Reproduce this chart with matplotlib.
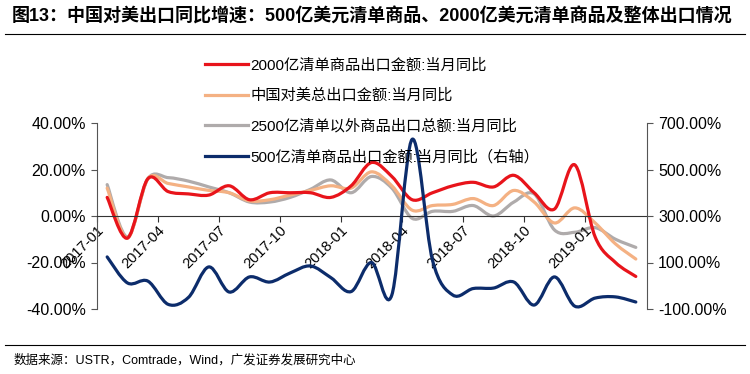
import matplotlib
matplotlib.use('Agg')
import matplotlib.pyplot as plt
import numpy as np
from matplotlib.path import Path
from matplotlib.patches import PathPatch
from matplotlib.lines import Line2D

plt.rcParams['font.family'] = ['Liberation Sans', 'Noto Sans CJK SC']

# monthly data 2017-01 .. 2019-03
months = ['2017-01', '2017-02', '2017-03', '2017-04', '2017-05', '2017-06',
          '2017-07', '2017-08', '2017-09', '2017-10', '2017-11', '2017-12',
          '2018-01', '2018-02', '2018-03', '2018-04', '2018-05', '2018-06',
          '2018-07', '2018-08', '2018-09', '2018-10', '2018-11', '2018-12',
          '2019-01', '2019-02', '2019-03']
tick_months = ['2017-01', '2017-04', '2017-07', '2017-10', '2018-01',
               '2018-04', '2018-07', '2018-10', '2019-01']

# left axis, %
red_2000 = [8, -9.5, 16, 10.5, 9.5, 9, 13, 7, 10, 10, 10, 8, 13, 23, 17, 7,
            10, 13, 14.5, 12.5, 17.5, 10, 3, 22, -9, -20, -26]
orange_total = [12, -9.5, 16, 14, 12.5, 11, 10, 6.5, 7, 9, 11, 13, 12, 19, 13,
                2.5, 4.5, 5, 7.5, 4.5, 11, 6, -3, 3.5, -3, -12, -18.5]
gray_other = [13.5, -9, 16, 16.5, 15, 12.5, 10, 6, 6, 8, 11.5, 15.5, 10, 17,
              12, -1, 2, 2, 4.5, 0, 6, 9.5, -6, -7, -5, -10, -13.5]
# right axis, %
blue_500 = [124, 12, 20, -80, -50, 81, -27, 38, 16, 55, 85, 35, -25, 100, -40,
            630, 110, -40, -12, -10, 16, -83, 38, -88, -53, -48, -70]

labels = ['2000亿清单商品出口金额:当月同比', '中国对美总出口金额:当月同比',
          '2500亿清单以外商品出口总额:当月同比', '500亿清单商品出口金额:当月同比（右轴）']
colors = ['#E8141B', '#F4B183', '#AFABAB', '#0C2C6B']


def smooth_path(x, y):
    # excel-like smooth line, bezier through every point
    pts = np.column_stack([x, y]).astype(float)
    verts = [pts[0]]
    codes = [Path.MOVETO]
    n = len(pts)
    for i in range(n - 1):
        p0 = pts[i - 1] if i > 0 else pts[i]
        p1 = pts[i]
        p2 = pts[i + 1]
        p3 = pts[i + 2] if i + 2 < n else pts[i + 1]
        verts += [p1 + (p2 - p0) / 6, p2 - (p3 - p1) / 6, p2]
        codes += [Path.CURVE4] * 3
    return Path(verts, codes)


fig = plt.figure(figsize=(7.5, 3.74), dpi=100)
ax = fig.add_axes([97 / 750, 1 - 309 / 374, 550 / 750, 186 / 374])
ax2 = ax.twinx()

x = np.arange(len(months)) + 0.5
lw = 2.3
# gray, orange, red order so red sits on top
for vals, c in [(gray_other, colors[2]), (orange_total, colors[1]), (red_2000, colors[0])]:
    ax.add_patch(PathPatch(smooth_path(x, vals), fill=False, edgecolor=c,
                           linewidth=lw, capstyle='round', joinstyle='round'))
ax2.add_patch(PathPatch(smooth_path(x, blue_500), fill=False, edgecolor=colors[3],
                        linewidth=lw, capstyle='round', joinstyle='round'))

ax.set_xlim(0, 27.05)
ax.set_ylim(-40, 40)
ax2.set_ylim(-100, 700)

for a in (ax, ax2):
    a.spines['top'].set_visible(False)
    a.patch.set_visible(False)
ax2.spines['bottom'].set_visible(False)
ax2.spines['left'].set_visible(False)
ax.spines['right'].set_visible(False)
ax.spines['bottom'].set_position(('data', 0))
ax.spines['bottom'].set_color('#333333')
ax.spines['left'].set_color('#555555')
ax2.spines['right'].set_color('#555555')
ax.tick_params(axis='x', length=4, color='#333333', pad=1)
ax.tick_params(axis='y', length=4, color='#555555', pad=4)
ax2.tick_params(axis='y', length=4, color='#555555', pad=4)

ax.set_yticks([-40, -20, 0, 20, 40])
ax.set_yticklabels(['-40.00%', '-20.00%', '0.00%', '20.00%', '40.00%'], fontsize=11.5)
ax2.set_yticks([-100, 100, 300, 500, 700])
ax2.set_yticklabels(['-100.00%', '100.00%', '300.00%', '500.00%', '700.00%'], fontsize=11.5)

ax.set_xticks([months.index(m) for m in tick_months])
ax.set_xticklabels(tick_months, fontsize=10.5)
for t in ax.get_xticklabels():
    t.set_rotation(45)
    t.set_rotation_mode('anchor')
    t.set_ha('right')
    t.set_va('top')

handles = [Line2D([], [], color=c, linewidth=lw) for c in colors]
fig.legend(handles, labels, loc='upper left', bbox_to_anchor=(205 / 750, 1 - 58 / 374),
           frameon=False, fontsize=11, handlelength=2.8, handletextpad=0.15,
           labelspacing=1.05, borderpad=0, borderaxespad=0)

fig.text(12 / 750, 1 - 17 / 374,
         '图13：中国对美出口同比增速：500亿美元清单商品、2000亿美元清单商品及整体出口情况',
         fontsize=13, fontweight='bold', va='center', ha='left')
fig.add_artist(Line2D([5 / 750, 745 / 750], [1 - 34 / 374, 1 - 34 / 374], color='black', linewidth=0.8))
fig.add_artist(Line2D([5 / 750, 745 / 750], [1 - 345 / 374, 1 - 345 / 374], color='black', linewidth=0.8))
fig.text(14 / 750, 1 - 360 / 374, '数据来源：USTR，Comtrade，Wind，广发证券发展研究中心',
         fontsize=9, va='center', ha='left')

fig.savefig('out.png', dpi=100)
